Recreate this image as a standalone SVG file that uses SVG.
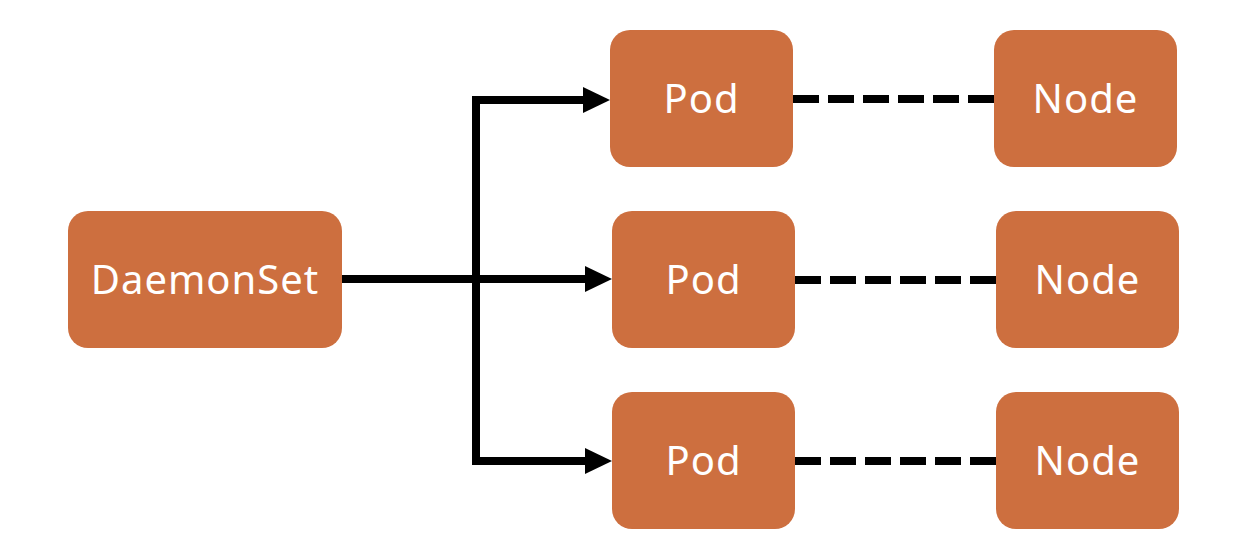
<svg xmlns="http://www.w3.org/2000/svg" width="1234" height="552" viewBox="0 0 1234 552">
<defs>
<style>
.box{fill:#CD6F3F;}
.lbl{fill:#fff;font-family:"Noto Sans","Open Sans",sans-serif;font-size:40px;letter-spacing:1px;text-anchor:middle;}
.solid{fill:none;stroke:#000;stroke-width:8;}
.dash{fill:none;stroke:#000;stroke-width:8;stroke-dasharray:26 9;}
</style>
<marker id="arr" viewBox="0 0 27 26" refX="0" refY="13" markerWidth="27" markerHeight="26" markerUnits="userSpaceOnUse" orient="auto">
<path d="M0,0 L27,13 L0,26 Z" fill="#000"/>
</marker>
</defs>
<rect width="1234" height="552" fill="#fff"/>
<g id="connectors">
<path class="solid" d="M342,279 H585" marker-end="url(#arr)"/>
<path class="solid" d="M476,279 V100 H583" marker-end="url(#arr)"/>
<path class="solid" d="M476,279 V461 H585" marker-end="url(#arr)"/>
<line class="dash" x1="793" y1="99" x2="994" y2="99"/>
<line class="dash" x1="795" y1="280" x2="996" y2="280"/>
<line class="dash" x1="795" y1="461" x2="996" y2="461"/>
</g>
<g id="daemonset">
<rect class="box" x="68" y="211" width="274" height="137" rx="20"/>
<text class="lbl" x="205" y="294">DaemonSet</text>
</g>
<g id="pod1">
<rect class="box" x="610" y="30" width="183" height="137" rx="20"/>
<text class="lbl" x="701.5" y="113">Pod</text>
</g>
<g id="pod2">
<rect class="box" x="612" y="211" width="183" height="137" rx="20"/>
<text class="lbl" x="703.5" y="294">Pod</text>
</g>
<g id="pod3">
<rect class="box" x="612" y="392" width="183" height="137" rx="20"/>
<text class="lbl" x="703.5" y="475">Pod</text>
</g>
<g id="node1">
<rect class="box" x="994" y="30" width="183" height="137" rx="20"/>
<text class="lbl" x="1085.5" y="113">Node</text>
</g>
<g id="node2">
<rect class="box" x="996" y="211" width="183" height="137" rx="20"/>
<text class="lbl" x="1087.5" y="294">Node</text>
</g>
<g id="node3">
<rect class="box" x="996" y="392" width="183" height="137" rx="20"/>
<text class="lbl" x="1087.5" y="475">Node</text>
</g>
</svg>
